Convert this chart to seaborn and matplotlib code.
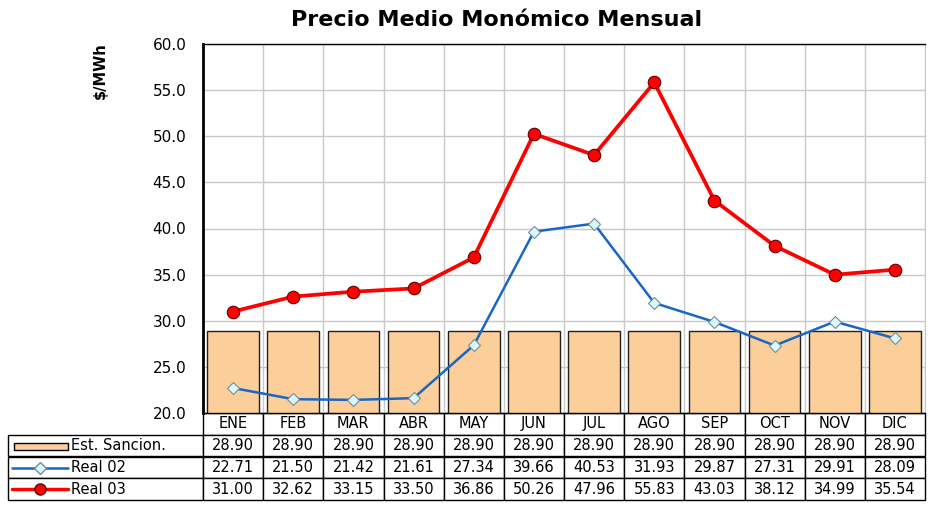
import numpy as np
import pandas as pd
import matplotlib
matplotlib.use("Agg")
import matplotlib.pyplot as plt
import seaborn as sns
from matplotlib.lines import Line2D
from matplotlib.patches import Rectangle
from matplotlib.ticker import FormatStrFormatter

months = ["ENE", "FEB", "MAR", "ABR", "MAY", "JUN", "JUL", "AGO", "SEP", "OCT", "NOV", "DIC"]
est_sancion = [28.90] * 12
real_02 = [22.71, 21.50, 21.42, 21.61, 27.34, 39.66, 40.53, 31.93, 29.87, 27.31, 29.91, 28.09]
real_03 = [31.00, 32.62, 33.15, 33.50, 36.86, 50.26, 47.96, 55.83, 43.03, 38.12, 34.99, 35.54]
series_names = ["Est. Sancion.", "Real 02", "Real 03"]

df = pd.DataFrame({"mes": months, "est": est_sancion, "r02": real_02, "r03": real_03})

sns.set_style("white")
plt.rcParams["font.family"] = ["DejaVu Sans"]
plt.rcParams["text.color"] = "black"
plt.rcParams["xtick.color"] = "black"
plt.rcParams["ytick.color"] = "black"

W, H = 947, 505
fig = plt.figure(figsize=(W / 100, H / 100), dpi=100)
ax = fig.add_axes([203 / W, 1 - 413 / H, 722 / W, 369 / H])

bar_col = "#FBCE9A"
blue = "#1A66C4"
red = "#FF0000"

sns.barplot(data=df, x="mes", y="est", ax=ax, color=bar_col, saturation=1,
            width=0.86, edgecolor="#202020", linewidth=1.0, zorder=2)
sns.lineplot(data=df, x="mes", y="r03", ax=ax, color=red, linewidth=2.7, sort=False,
             marker="o", markersize=9, markerfacecolor=red, markeredgecolor="#600000",
             markeredgewidth=0.8, zorder=4)
sns.lineplot(data=df, x="mes", y="r02", ax=ax, color=blue, linewidth=1.8, sort=False,
             marker="D", markersize=6, markerfacecolor="#D6FAFF", markeredgecolor="#7a8a99",
             markeredgewidth=0.8, zorder=3)

ax.set_ylim(20, 60)
ax.set_xlim(-0.5, 11.5)
ax.set_yticks(np.arange(20, 61, 5))
ax.yaxis.set_major_formatter(FormatStrFormatter("%.1f"))
ax.set_xticks(range(12))
ax.set_xticklabels([])
ax.set_xticks(np.arange(-0.5, 12, 1), minor=True)
ax.tick_params(axis="x", which="both", length=0)
ax.tick_params(axis="y", length=8, width=1, color="black", labelsize=11, pad=4)
ax.set_xlabel("")
ax.set_ylabel("")
ax.set_axisbelow(True)
ax.grid(axis="y", which="major", color="#c8c8c8", linewidth=1)
ax.grid(axis="x", which="minor", color="#c8c8c8", linewidth=1)
for s in ["left", "bottom", "top"]:
    ax.spines[s].set_visible(True)
    ax.spines[s].set_color("black")
ax.spines["left"].set_linewidth(2)
ax.spines["top"].set_linewidth(1)
ax.spines["bottom"].set_linewidth(1)
ax.spines["right"].set_color("#c8c8c8")

# data table under the plot
rows = [[""] + [f"{v:.2f}" for v in vals] for vals in (est_sancion, real_02, real_03)]
label_w = 195 / 722
col_w = [label_w] + [1 / 12] * 12
tbl = ax.table(cellText=rows, colLabels=[""] + months, colWidths=col_w,
               cellLoc="center", bbox=[-label_w, -87 / 369, 1 + label_w, 87 / 369])
tbl.auto_set_font_size(False)
tbl.set_fontsize(10.5)
for (r, c), cell in tbl.get_celld().items():
    cell.set_edgecolor("black")
    cell.set_linewidth(1)
    cell.set_facecolor("white")
    cell.get_text().set_color("black")
    if r == 0 and c == 0:
        cell.visible_edges = ""

# legend keys and names in the first column
def fy(py):
    return 1 - py / H

key_y = [446, 467.5, 489]
fig.add_artist(Rectangle((14 / W, fy(key_y[0] + 3.5)), 54 / W, 7 / H, transform=fig.transFigure,
                         facecolor=bar_col, edgecolor="black", linewidth=1))
fig.add_artist(Line2D([12 / W, 68 / W], [fy(key_y[1])] * 2, transform=fig.transFigure,
                      color=blue, linewidth=1.8))
fig.add_artist(Line2D([40 / W], [fy(key_y[1])], transform=fig.transFigure, marker="D",
                      markersize=6, markerfacecolor="#D6FAFF", markeredgecolor="#7a8a99"))
fig.add_artist(Line2D([12 / W, 68 / W], [fy(key_y[2])] * 2, transform=fig.transFigure,
                      color=red, linewidth=2.5))
fig.add_artist(Line2D([40 / W], [fy(key_y[2])], transform=fig.transFigure, marker="o",
                      markersize=8, markerfacecolor=red, markeredgecolor="#600000"))
for name, py in zip(series_names, key_y):
    fig.text(71 / W, fy(py), name, fontsize=10.5, va="center", ha="left")

fig.text(497 / W, fy(20), "Precio Medio Monómico Mensual", fontsize=16,
         fontweight="bold", ha="center", va="center")
fig.text(100 / W, fy(42), "$/MWh", fontsize=10.5, fontweight="bold",
         rotation=90, ha="center", va="top")

fig.savefig("out.png", dpi=100)
